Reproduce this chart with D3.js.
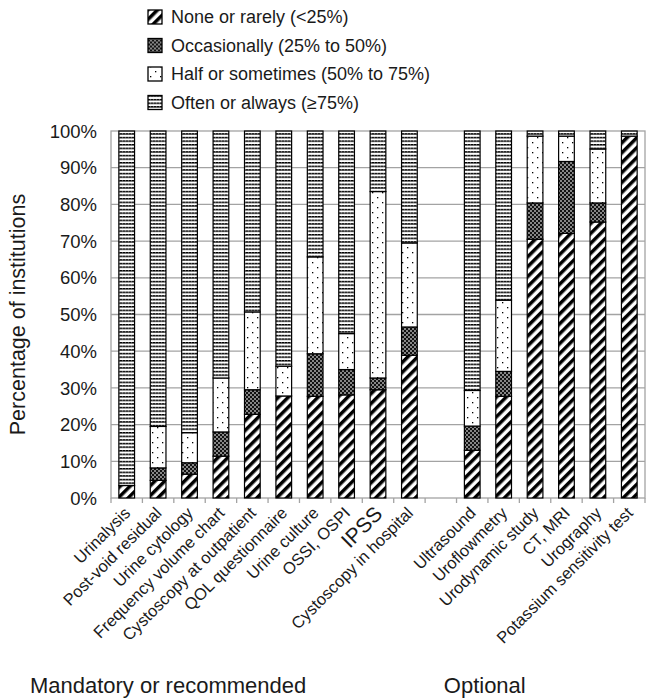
<!DOCTYPE html>
<html><head><meta charset="utf-8">
<script src="https://cdn.jsdelivr.net/npm/d3@7"></script>
<style>
body{margin:0;background:#fff}
text{font-family:"Liberation Sans",Arial,Helvetica,sans-serif;fill:#1a1a1a}
</style>
</head><body>
<svg id="chart" width="662" height="699"></svg>
<script>
// ---------- data ----------
const mandatory = ["Urinalysis","Post-void residual","Urine cytology","Frequency volume chart","Cystoscopy at outpatient","QOL questionnaire","Urine culture","OSSI, OSPI","IPSS","Cystoscopy in hospital"];
const optional = ["Ultrasound","Uroflowmetry","Urodynamic study","CT, MRI","Urography","Potassium sensitivity test"];
const groupLabels = ["Mandatory or recommended","Optional"];
const seriesNames = ["None or rarely (<25%)","Occasionally (25% to 50%)","Half or sometimes (50% to 75%)","Often or always (\u226575%)"];
const noneRarely    = [3.4, 4.8, 6.5, 11.4, 22.8, 27.8, 27.7, 28.1, 29.5, 38.9, 13.0, 27.7, 70.5, 72.1, 75.2, 98.6];
const occasionally  = [0.0, 3.4, 3.1,  6.6,  6.7,  0.0, 11.6,  6.9,  3.2,  7.7,  6.6,  6.8,  9.9, 19.6,  5.2,  0.0];
const halfSometimes = [0.0,11.3, 8.2, 14.7, 21.2,  8.1, 26.4,  9.8, 50.8, 22.9,  9.7, 19.4, 18.2,  6.9, 14.7,  0.0];
const oftenAlways   = [96.6,80.5,82.2,67.3, 49.3, 64.1, 34.3, 55.2, 16.5, 30.5, 70.7, 46.1,  1.4,  1.4,  4.9,  1.4];
const yTicks = [0,10,20,30,40,50,60,70,80,90,100];

// ---------- layout ----------
const GAP = "__gap__";
const cats = [...mandatory, ...optional];
const slots = [...mandatory, GAP, ...optional];
const mLeft = 111, mRight = 645, mTop = 131, mBottom = 498;

const svg = d3.select("#chart");
const x = d3.scaleBand().domain(slots).range([mLeft, mRight]).paddingInner(0.5).paddingOuter(0.25);
const y = d3.scaleLinear().domain([0, 100]).range([mBottom, mTop]);

// ---------- patterns ----------
const defs = svg.append("defs");
const pNone = defs.append("pattern").attr("id","pNone").attr("patternUnits","userSpaceOnUse")
  .attr("width",7).attr("height",7).attr("patternTransform","rotate(45)");
pNone.append("rect").attr("width",7).attr("height",7).attr("fill","#fff");
pNone.append("rect").attr("width",3.5).attr("height",7).attr("fill","#000");
const pOcc = defs.append("pattern").attr("id","pOcc").attr("patternUnits","userSpaceOnUse")
  .attr("width",4).attr("height",4);
pOcc.append("rect").attr("width",4).attr("height",4).attr("fill","#111");
pOcc.append("rect").attr("x",0.3).attr("y",0.3).attr("width",1.4).attr("height",1.4).attr("fill","#fff");
pOcc.append("rect").attr("x",2.3).attr("y",2.3).attr("width",1.4).attr("height",1.4).attr("fill","#fff");
const pHalf = defs.append("pattern").attr("id","pHalf").attr("patternUnits","userSpaceOnUse")
  .attr("width",10).attr("height",10);
pHalf.append("rect").attr("width",10).attr("height",10).attr("fill","#fff");
pHalf.append("rect").attr("x",2).attr("y",2).attr("width",1.3).attr("height",1.3).attr("fill","#000");
pHalf.append("rect").attr("x",7).attr("y",7).attr("width",1.3).attr("height",1.3).attr("fill","#000");
const pOften = defs.append("pattern").attr("id","pOften").attr("patternUnits","userSpaceOnUse")
  .attr("width",6).attr("height",3.6);
pOften.append("rect").attr("width",6).attr("height",3.6).attr("fill","#fff");
pOften.append("rect").attr("y",0).attr("width",6).attr("height",1.5).attr("fill","#000");
pOften.append("rect").attr("x",2).attr("y",0.4).attr("width",0.8).attr("height",0.7).attr("fill","#bbb");
pOften.append("rect").attr("x",5).attr("y",0.4).attr("width",0.8).attr("height",0.7).attr("fill","#bbb");

const fills = ["url(#pNone)","url(#pOcc)","url(#pHalf)","url(#pOften)"];

// ---------- grid & frame ----------
const gridC = "#a3a3a3";
svg.append("g").selectAll("line").data(yTicks.filter(t => t > 0 && t < 100)).join("line")
  .attr("x1", mLeft).attr("x2", mRight).attr("y1", d => y(d)).attr("y2", d => y(d))
  .attr("stroke", gridC).attr("stroke-width", 1.3);
svg.append("rect").attr("x", mLeft).attr("y", y(100)).attr("width", mRight - mLeft).attr("height", y(0) - y(100))
  .attr("fill", "none").attr("stroke", gridC).attr("stroke-width", 1.3);

// ---------- bars ----------
const table = cats.map((c, i) => ({cat: c, v0: noneRarely[i], v1: occasionally[i], v2: halfSometimes[i], v3: oftenAlways[i]}));
const stack = d3.stack().keys(["v0","v1","v2","v3"])(table);
stack.forEach((layer, k) => {
  svg.append("g").selectAll("rect").data(layer.filter(d => d[1] - d[0] > 0)).join("rect")
    .attr("x", d => x(d.data.cat))
    .attr("width", x.bandwidth())
    .attr("y", d => y(d[1]))
    .attr("height", d => y(d[0]) - y(d[1]))
    .attr("fill", fills[k])
    .attr("stroke", "#000").attr("stroke-width", 1.2);
});

// ---------- x axis ----------
const step = x.step();
const boundaries = d3.range(slots.length + 1).map(i => mLeft + i * step);
svg.append("g").selectAll("line").data(boundaries).join("line")
  .attr("x1", d => d).attr("x2", d => d).attr("y1", mBottom).attr("y2", mBottom + 5)
  .attr("stroke", gridC).attr("stroke-width", 1.3);

svg.append("g").selectAll("text").data(cats).join("text")
  .attr("transform", d => `translate(${x(d) + x.bandwidth() / 2 + 0.5},${mBottom + 12}) rotate(-45)`)
  .attr("text-anchor", "end").attr("dy", "0.35em")
  .style("font-size", d => d === "IPSS" ? "21px" : "16.5px")
  .text(d => d);

// ---------- y axis ----------
svg.append("g").selectAll("text").data(yTicks).join("text")
  .attr("x", 97).attr("y", d => y(d)).attr("dy", "0.36em")
  .attr("text-anchor", "end").style("font-size", "18.5px")
  .text(d => d + "%");
svg.append("text").attr("transform", `translate(25,${(y(0) + y(100)) / 2}) rotate(-90)`)
  .attr("text-anchor", "middle").style("font-size", "21.5px")
  .text("Percentage of institutions");

// ---------- group labels ----------
const mandCenter = (x(mandatory[0]) + x(mandatory[mandatory.length - 1]) + x.bandwidth()) / 2;
const optCenter = (x(optional[0]) + x(optional[optional.length - 1]) + x.bandwidth()) / 2;
svg.append("g").selectAll("text").data(groupLabels).join("text")
  .attr("x", (d, i) => i === 0 ? mandCenter - 100 : optCenter - 66)
  .attr("y", 693).attr("text-anchor", "middle").style("font-size", "22px")
  .text(d => d);

// ---------- legend ----------
const lg = svg.append("g").selectAll("g").data(seriesNames).join("g")
  .attr("transform", (d, i) => `translate(148,${17 + i * 28.5})`);
lg.append("rect").attr("x", 0).attr("y", -7).attr("width", 14).attr("height", 14)
  .attr("fill", (d, i) => fills[i]).attr("stroke", "#000").attr("stroke-width", 1.3);
lg.append("text").attr("x", 23).attr("y", 0).attr("dy", "0.36em").style("font-size", "18px").text(d => d);
</script>
</body></html>
